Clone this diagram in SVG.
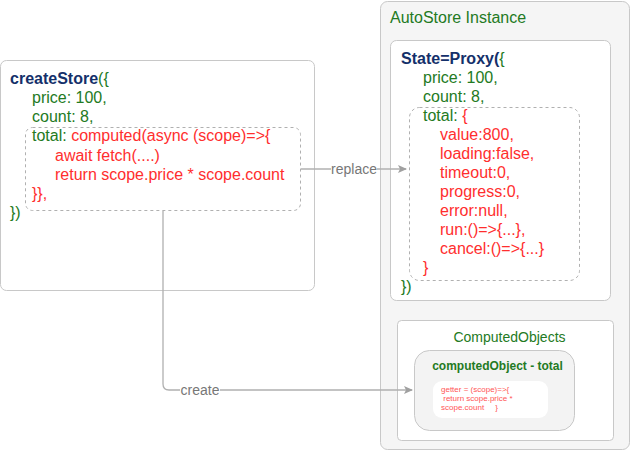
<svg xmlns="http://www.w3.org/2000/svg" width="631" height="451" viewBox="0 0 631 451">
<style>
text{font-family:"Liberation Sans",Arial,sans-serif;font-size:16px}
.g{fill:#237a23}
.r{fill:#ff2e2e}
.b{fill:#14306a;font-weight:bold}
.box{fill:#fff;stroke:#c8c8c8;stroke-width:1}
.dash{fill:none;stroke:#b0b0b0;stroke-width:1;stroke-dasharray:3 3}
.conn{fill:none;stroke:#b0b0b0;stroke-width:1.3}
.lbl{fill:#777;font-size:14px}
.s{font-size:8px;fill:#ff5555}
</style>
<defs>
<marker id="arr" markerWidth="10" markerHeight="10" refX="8" refY="4" orient="auto" markerUnits="userSpaceOnUse">
<path d="M0,0 L9,4 L0,8 L2,4 Z" fill="#a0a0a0"/>
</marker>
</defs>
<g id="createStore">
<rect class="box" x="0.5" y="60.5" width="314" height="230" rx="6"/>
<rect class="dash" x="25.5" y="127.5" width="275" height="83" rx="7"/>
<text x="10" y="84"><tspan class="b">createStore</tspan><tspan class="g">({</tspan></text>
<text x="32" y="103" class="g">price: 100,</text>
<text x="32" y="122" class="g">count: 8,</text>
<text x="32" y="141"><tspan class="g">total: </tspan><tspan class="r">computed(async (scope)=&gt;{</tspan></text>
<text x="55" y="161" class="r">await fetch(....)</text>
<text x="55" y="180" class="r">return scope.price * scope.count</text>
<text x="32" y="199" class="r">}},</text>
<text x="10" y="218" class="g">})</text>
</g>
<g id="autostore">
<rect x="380.5" y="1.5" width="249" height="448" rx="7" fill="#f5f5f5" stroke="#c8c8c8"/>
<text x="390" y="23" class="g">AutoStore Instance</text>
</g>
<g id="state">
<rect class="box" x="390.5" y="40.5" width="220" height="260" rx="6"/>
<rect class="dash" x="409.5" y="107.5" width="170" height="173" rx="10"/>
<text x="401" y="64"><tspan class="b">State=Proxy(</tspan><tspan class="g">{</tspan></text>
<text x="423" y="83" class="g">price: 100,</text>
<text x="423" y="102" class="g">count: 8,</text>
<text x="423" y="121"><tspan class="g">total: </tspan><tspan class="r">{</tspan></text>
<text x="440" y="140" class="r">value:800,</text>
<text x="440" y="159" class="r">loading:false,</text>
<text x="440" y="178" class="r">timeout:0,</text>
<text x="440" y="197" class="r">progress:0,</text>
<text x="440" y="216" class="r">error:null,</text>
<text x="440" y="235" class="r">run:()=&gt;{...},</text>
<text x="440" y="254" class="r">cancel:()=&gt;{...}</text>
<text x="423" y="273" class="r">}</text>
<text x="401" y="292" class="g">})</text>
</g>
<g id="computedObjects">
<rect class="box" x="397.5" y="320.5" width="216" height="120" rx="4"/>
<text x="509.5" y="342" class="g" text-anchor="middle" style="font-size:14px">ComputedObjects</text>
</g>
<g id="computedObject">
<rect x="414.5" y="350.5" width="160" height="80" rx="15" fill="#f3f3f3" stroke="#c8c8c8"/>
<text x="497.5" y="370" class="g" text-anchor="middle" style="font-size:12px;font-weight:bold">computedObject - total</text>
<rect x="433" y="381" width="115" height="37" rx="9" fill="#fff"/>
<text x="441" y="392" class="s" xml:space="preserve">getter = (scope)=&gt;{</text>
<text x="441" y="401" class="s" xml:space="preserve"> return scope.price *</text>
<text x="441" y="410" class="s" xml:space="preserve">scope.count     }</text>
</g>
<g id="connectors">
<path class="conn" d="M301,169 H406" marker-end="url(#arr)"/>
<rect x="331" y="161" width="46" height="16" fill="#fff"/>
<text x="354" y="174" class="lbl" text-anchor="middle">replace</text>
<path class="conn" d="M163,211 V384 Q163,390 169,390 H412" marker-end="url(#arr)"/>
<rect x="180" y="382" width="40" height="16" fill="#fff"/>
<text x="200" y="395" class="lbl" text-anchor="middle">create</text>
</g>
</svg>
